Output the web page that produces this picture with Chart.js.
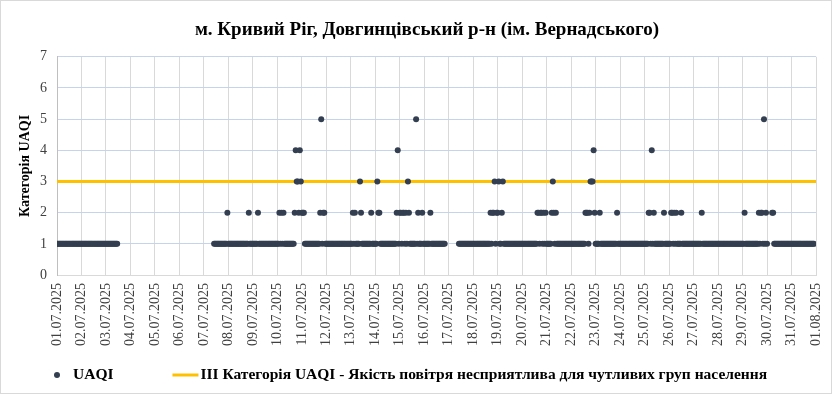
<!DOCTYPE html>
<html>
<head>
<meta charset="utf-8">
<script src="https://cdn.jsdelivr.net/npm/chart.js@4.4.0/dist/chart.umd.min.js"></script>
<style>
  html, body { margin: 0; padding: 0; background: #fff; }
</style>
</head>
<body>
<canvas id="uaqiChart" width="832" height="394"></canvas>
<script>
const chartTitle = "м. Кривий Ріг, Довгинцівський р-н (ім. Вернадського)";
const yAxisTitle = "Категорія UAQI";
const uaqiLabel = "UAQI";
const thresholdLabel = "ІІІ Категорія UAQI - Якість повітря несприятлива для чутливих груп населення";
const thresholdValue = 3;

const dayLabels = [
  "01.07.2025", "02.07.2025", "03.07.2025", "04.07.2025", "05.07.2025", "06.07.2025",
  "07.07.2025", "08.07.2025", "09.07.2025", "10.07.2025", "11.07.2025", "12.07.2025",
  "13.07.2025", "14.07.2025", "15.07.2025", "16.07.2025", "17.07.2025", "18.07.2025",
  "19.07.2025", "20.07.2025", "21.07.2025", "22.07.2025", "23.07.2025", "24.07.2025",
  "25.07.2025", "26.07.2025", "27.07.2025", "28.07.2025", "29.07.2025", "30.07.2025",
  "31.07.2025", "01.08.2025"
];

// hourly UAQI category, one string per day (00h..23h), "-" = no data
const hourlyUaqi = [
  "111111111111111111111111", // 01.07
  "111111111111111111111111", // 02.07
  "111111111111------------", // 03.07
  "------------------------", // 04.07
  "------------------------", // 05.07
  "------------------------", // 06.07
  "----------11111111111112", // 07.07
  "111111111111111111112111", // 08.07
  "111112111111111111111111", // 09.07
  "112121211111111112433243", // 10.07
  "222111111111111111251221", // 11.07
  "111111111111111111111111", // 12.07
  "112121111321111111112111", // 13.07
  "113221111111111111111241", // 14.07
  "221221213211111151211121", // 15.07
  "111111211111111111111---", // 16.07
  "----------11111111111111", // 17.07
  "111111111111111112122312", // 18.07
  "231123111111111111111111", // 19.07
  "111111111111111221221212", // 20.07
  "111112321211111111111111", // 21.07
  "111111111111112221233342", // 22.07
  "111121111111111111111211", // 23.07
  "111111111111111111111111", // 24.07
  "111122141211111111121111", // 25.07
  "112212121111211111111111", // 26.07
  "111111112111111111111111", // 27.07
  "111111111111111111111111", // 28.07
  "112111111111111121221512", // 29.07
  "1----2211111111111111111", // 30.07
  "11111111111111111111111-"  // 31.07
];

const uaqiPoints = [];
hourlyUaqi.forEach((day, d) => {
  day.split("").forEach((c, h) => {
    if (c !== "-") uaqiPoints.push({ x: d * 24 + h, y: Number(c) });
  });
});
const lastHour = (dayLabels.length - 1) * 24;

const serif = "'Liberation Serif', 'Times New Roman', serif";

const frameAndLegend = {
  id: "frameAndLegend",
  beforeDraw(chart) {
    const c = chart.ctx;
    c.save();
    c.fillStyle = "#fff";
    c.fillRect(0, 0, chart.width, chart.height);
    c.strokeStyle = "#d9d9d9";
    c.lineWidth = 1;
    c.strokeRect(0.5, 0.5, chart.width - 1, chart.height - 1);
    c.restore();
  },
  afterDraw(chart) {
    const c = chart.ctx;
    const ds = chart.data.datasets;
    c.save();
    c.font = "bold 15.5px " + serif;
    c.textBaseline = "middle";
    const w1 = c.measureText(ds[0].label).width;
    let x = chart.chartArea.left;
    const y = 375;
    c.beginPath();
    c.arc(x, y, 3, 0, Math.PI * 2);
    c.fillStyle = ds[0].backgroundColor;
    c.fill();
    x += 16;
    c.fillStyle = "#000";
    c.fillText(ds[0].label, x, y);
    x += w1 + 59;
    c.strokeStyle = ds[1].borderColor;
    c.lineWidth = 3;
    c.beginPath();
    c.moveTo(x, y);
    c.lineTo(x + 26, y);
    c.stroke();
    x += 28;
    c.fillText(ds[1].label, x, y);
    c.restore();
  }
};

const ctx = document.getElementById("uaqiChart").getContext("2d");
new Chart(ctx, {
  type: "scatter",
  data: {
    datasets: [
      {
        label: uaqiLabel,
        data: uaqiPoints,
        backgroundColor: "#333f50",
        borderWidth: 0,
        pointRadius: 3,
        pointHoverRadius: 3
      },
      {
        type: "line",
        label: thresholdLabel,
        data: [{ x: 0, y: thresholdValue }, { x: lastHour, y: thresholdValue }],
        borderColor: "#ffc000",
        backgroundColor: "#ffc000",
        borderWidth: 3,
        pointRadius: 0,
        fill: false
      }
    ]
  },
  options: {
    responsive: false,
    animation: false,
    layout: { padding: { left: 22, right: 0, top: 0, bottom: 40 } },
    plugins: {
      legend: { display: false },
      tooltip: { enabled: false },
      title: {
        display: true,
        text: chartTitle,
        color: "#000",
        font: { family: serif, size: 19, weight: "bold" },
        padding: { top: 19, bottom: 15 }
      }
    },
    scales: {
      x: {
        type: "linear",
        min: 0,
        max: lastHour,
        ticks: {
          stepSize: 24,
          autoSkip: false,
          minRotation: 90,
          maxRotation: 90,
          padding: 8,
          color: "#404040",
          font: { family: serif, size: 14 },
          callback: v => dayLabels[v / 24]
        },
        grid: { color: "#d9d9d9", drawTicks: false },
        border: { color: "#d9d9d9" },
        afterFit: s => {
          s.height = 79;
          s.paddingLeft = 0;
          s.paddingRight = 16;
        }
      },
      y: {
        min: 0,
        max: 7,
        ticks: {
          stepSize: 1,
          padding: 10,
          color: "#404040",
          font: { family: serif, size: 14 }
        },
        grid: { color: "#c5d4ec", drawTicks: false },
        border: { color: "#bfbfbf" },
        title: {
          display: true,
          text: yAxisTitle,
          color: "#000",
          font: { family: serif, size: 14, weight: "bold" },
          padding: { top: -5, bottom: 0 }
        },
        afterFit: s => { s.width = 35; }
      }
    }
  },
  plugins: [frameAndLegend]
});
</script>
</body>
</html>
